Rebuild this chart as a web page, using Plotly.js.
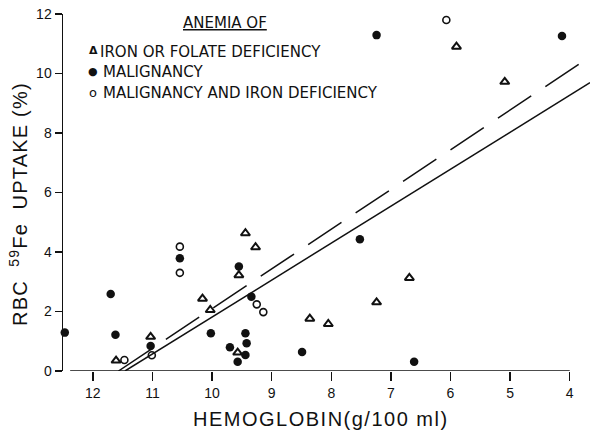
<!DOCTYPE html>
<html>
<head>
<meta charset="utf-8">
<script src="https://cdn.plot.ly/plotly-3.0.1.min.js"></script>
<style>html,body{margin:0;padding:0;background:#fff;}#chart{width:590px;height:437px;}</style>
</head>
<body>
<div id="chart"></div>
<script>
// Anemia of iron or folate deficiency (open triangles)
const ironX = [11.61, 11.03, 10.16, 10.03, 9.57, 9.55, 9.44, 9.27, 8.36, 8.05, 7.24, 6.69, 5.90, 5.09];
const ironY = [0.35, 1.15, 2.43, 2.05, 0.62, 3.22, 4.63, 4.16, 1.76, 1.58, 2.31, 3.13, 10.90, 9.72];
// Anemia of malignancy (filled circles)
const maligX = [12.47, 11.70, 11.62, 11.03, 10.54, 10.02, 9.70, 9.57, 9.55, 9.44, 9.42, 9.44, 9.34, 8.49, 7.52, 6.61, 7.24, 4.13];
const maligY = [1.29, 2.59, 1.22, 0.84, 3.79, 1.27, 0.80, 0.31, 3.51, 1.27, 0.93, 0.54, 2.50, 0.64, 4.43, 0.31, 11.29, 11.26];
// Anemia of malignancy and iron deficiency (open circles)
const bothX = [11.47, 11.01, 10.54, 10.54, 9.25, 9.14, 6.07];
const bothY = [0.37, 0.53, 4.18, 3.30, 2.24, 1.98, 11.80];
// Regression lines
const solidX = [11.46, 3.66];
const solidY = [0, 9.69];
const dashX = [11.57, 3.66];
const dashY = [0, 10.56];
// Axis ticks
const xTicks = [12, 11, 10, 9, 8, 7, 6, 5, 4];
const yTicks = [0, 2, 4, 6, 8, 10, 12];

const ink = '#111';
const traces = [
  {x: solidX, y: solidY, mode: 'lines', line: {color: ink, width: 1.5}, hoverinfo: 'skip'},
  {x: dashX, y: dashY, mode: 'lines', line: {color: ink, width: 1.5, dash: '40px,17px'}, hoverinfo: 'skip'},
  {x: ironX, y: ironY, mode: 'markers', cliponaxis: false,
   marker: {symbol: 'triangle-up-open', size: 8, color: ink, line: {width: 2, color: ink}}},
  {x: maligX, y: maligY, mode: 'markers', cliponaxis: false,
   marker: {symbol: 'circle', size: 8.5, color: ink, line: {width: 0}}},
  {x: bothX, y: bothY, mode: 'markers', cliponaxis: false,
   marker: {symbol: 'circle-open', size: 7, color: ink, line: {width: 1.6, color: ink}}}
];

const W = 527, H = 357, L = 63, T = 14;
const px = v => (v - L) / W;
const py = v => (T + H - v) / H;
const legFont = {family: 'DejaVu Sans', size: 15, color: ink};
const titleFont = {family: 'Liberation Sans', size: 20, color: ink};
function ann(x, y, text, font, xanchor, extra) {
  return Object.assign({xref: 'paper', yref: 'paper', x: px(x), y: py(y), text: text, font: font,
    xanchor: xanchor, yanchor: 'middle', showarrow: false, borderpad: 0}, extra || {});
}

const layout = {
  width: 590, height: 437,
  margin: {l: L, r: 0, t: T, b: 66},
  paper_bgcolor: '#fff', plot_bgcolor: '#fff',
  showlegend: false,
  xaxis: {range: [12.5, 3.66], tickvals: xTicks, ticktext: xTicks.map(String),
          ticks: 'outside', ticklen: 9, tickwidth: 1.5, tickcolor: ink,
          showline: false, showgrid: false, zeroline: false,
          tickfont: {family: 'Liberation Sans', size: 14, color: ink}},
  yaxis: {range: [0, 12], tickvals: yTicks, ticktext: yTicks.map(String),
          ticks: 'outside', ticklen: 7, tickwidth: 1.5, tickcolor: ink,
          showline: true, linewidth: 1.5, linecolor: ink,
          showgrid: false, zeroline: false,
          tickfont: {family: 'Liberation Sans', size: 14, color: ink}},
  shapes: [
    {type: 'line', xref: 'x', yref: 'y', x0: 12.38, x1: 4, y0: 0, y1: 0, line: {color: ink, width: 1.5}}
  ],
  annotations: [
    ann(18, 204, '<span style="letter-spacing:1.2px">RBC  <sup>59</sup>Fe  UPTAKE (%)</span>', titleFont, 'center', {textangle: -90}),
    ann(321, 419, '<span style="letter-spacing:1.5px">HEMOGLOBIN(g/100 ml)</span>', titleFont, 'center'),
    ann(182, 23, '<u>ANEMIA OF</u>', legFont, 'left'),
    ann(93.5, 51, '<b>Δ</b>', {family: 'DejaVu Sans', size: 11, color: ink}, 'center'),
    ann(99, 52, 'IRON OR FOLATE DEFICIENCY', legFont, 'left'),
    ann(93, 71.5, '●', {family: 'DejaVu Sans', size: 11, color: ink}, 'center'),
    ann(102, 72, 'MALIGNANCY', legFont, 'left'),
    ann(93, 92, 'o', {family: 'DejaVu Sans', size: 13, color: ink}, 'center'),
    ann(102, 93, 'MALIGNANCY AND IRON DEFICIENCY', legFont, 'left')
  ]
};

Plotly.newPlot('chart', traces, layout, {displayModeBar: false, staticPlot: true});
</script>
</body>
</html>
